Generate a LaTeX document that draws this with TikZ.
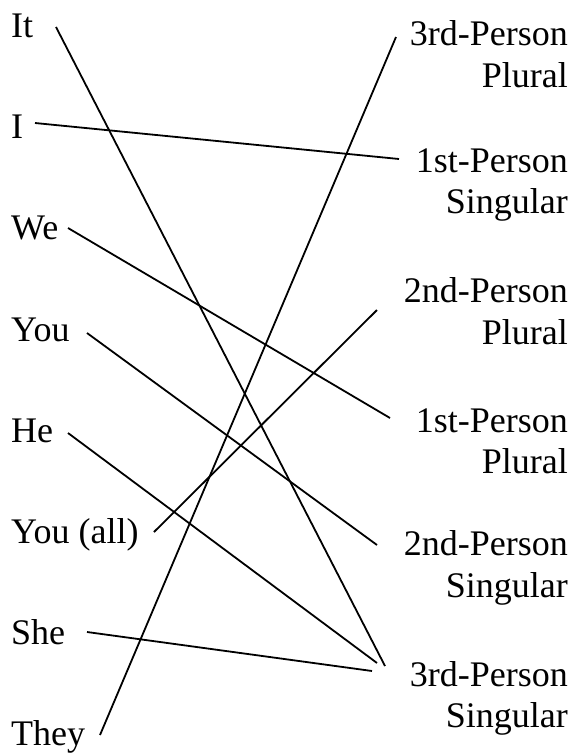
\documentclass[tikz,border=0pt]{standalone}
\usepackage{fontspec}
\setmainfont{Liberation Serif}
\begin{document}
\begin{tikzpicture}[x=1pt,y=-1pt,
  lbl/.style={inner sep=0pt, font=\fontsize{36}{42}\selectfont},
  lft/.style={lbl, anchor=base west},
  rgt/.style={lbl, anchor=base east},
  link/.style={line width=1.8pt, line cap=butt}]
\useasboundingbox (0,0) rectangle (573,756);
% left labels
\node[lft] (it) at (11,37) {It};
\node[lft] (i) at (11,138) {I};
\node[lft] (we) at (11,239) {We};
\node[lft] (you) at (11,341) {You};
\node[lft] (he) at (11,442) {He};
\node[lft] (yall) at (11,543) {You (all)};
\node[lft] (she) at (11,644) {She};
\node[lft] (they) at (11,745) {They};
% right labels
\node[rgt] (p3) at (568,45) {3rd-Person};
\node[rgt] (p3b) at (568,87) {Plural};
\node[rgt] (s1) at (568,172) {1st-Person};
\node[rgt] (s1b) at (568,213) {Singular};
\node[rgt] (p2) at (568,302) {2nd-Person};
\node[rgt] (p2b) at (568,344) {Plural};
\node[rgt] (p1) at (568,432) {1st-Person};
\node[rgt] (p1b) at (568,473) {Plural};
\node[rgt] (s2) at (568,555) {2nd-Person};
\node[rgt] (s2b) at (568,597) {Singular};
\node[rgt] (s3) at (568,686) {3rd-Person};
\node[rgt] (s3b) at (568,727) {Singular};
% connector ends
\coordinate (it-e) at (56,27);
\coordinate (i-e) at (35,123);
\coordinate (we-e) at (68,228);
\coordinate (you-e) at (87,333);
\coordinate (he-e) at (68,433);
\coordinate (yall-e) at (154,532);
\coordinate (she-e) at (87,632);
\coordinate (they-e) at (100,735);
\coordinate (p3-e) at (396,37);
\coordinate (s1-e) at (399,159);
\coordinate (p2-e) at (377,310);
\coordinate (p1-e) at (390,418);
\coordinate (s2-e) at (377,545);
\coordinate (s3-a) at (385,666);
\coordinate (s3-b) at (377,663);
\coordinate (s3-c) at (372,671);
% connectors
\draw[link] (it-e) -- (s3-a);
\draw[link] (i-e) -- (s1-e);
\draw[link] (we-e) -- (p1-e);
\draw[link] (you-e) -- (s2-e);
\draw[link] (he-e) -- (s3-b);
\draw[link] (yall-e) -- (p2-e);
\draw[link] (she-e) -- (s3-c);
\draw[link] (they-e) -- (p3-e);
\end{tikzpicture}
\end{document}
